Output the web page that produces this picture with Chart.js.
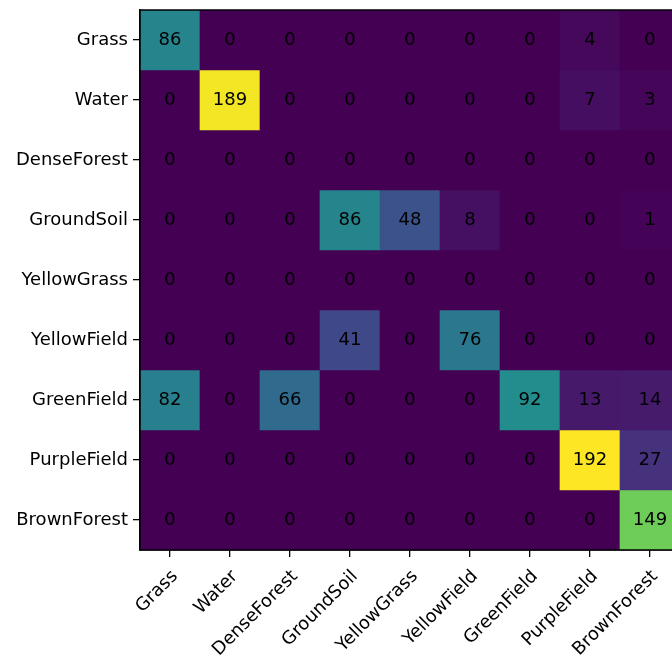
<!DOCTYPE html>
<html>
<head>
<meta charset="utf-8">
<script src="https://cdn.jsdelivr.net/npm/chart.js@4/dist/chart.umd.min.js"></script>
<style>
  html, body { margin: 0; padding: 0; background: #fff; overflow: hidden; }
  #wrap { position: absolute; left: 0; top: 0; width: 680px; height: 656px; }
</style>
</head>
<body>
<div id="wrap"><canvas id="cm" width="680" height="656"></canvas></div>
<script>
// Class names (true class on rows, predicted class on columns)
const classes = ['Grass', 'Water', 'DenseForest', 'GroundSoil', 'YellowGrass',
                 'YellowField', 'GreenField', 'PurpleField', 'BrownForest'];

// Confusion counts, one row per true class
const grass       = [86, 0, 0, 0, 0, 0, 0, 4, 0];
const water       = [0, 189, 0, 0, 0, 0, 0, 7, 3];
const denseForest = [0, 0, 0, 0, 0, 0, 0, 0, 0];
const groundSoil  = [0, 0, 0, 86, 48, 8, 0, 0, 1];
const yellowGrass = [0, 0, 0, 0, 0, 0, 0, 0, 0];
const yellowField = [0, 0, 0, 41, 0, 76, 0, 0, 0];
const greenField  = [82, 0, 66, 0, 0, 0, 92, 13, 14];
const purpleField = [0, 0, 0, 0, 0, 0, 0, 192, 27];
const brownForest = [0, 0, 0, 0, 0, 0, 0, 0, 149];

const rows = [grass, water, denseForest, groundSoil, yellowGrass,
              yellowField, greenField, purpleField, brownForest];

// Viridis colormap stops
const viridis = ['#440154', '#482475', '#414487', '#355f8d', '#2a788e', '#21918c',
                 '#22a884', '#44bf70', '#7ad151', '#bddf26', '#fde725'];
function hexToRgb(h) {
  return [parseInt(h.slice(1, 3), 16), parseInt(h.slice(3, 5), 16), parseInt(h.slice(5, 7), 16)];
}
const viridisRgb = viridis.map(hexToRgb);
function viridisColor(t) {
  t = Math.max(0, Math.min(1, t));
  const p = t * (viridisRgb.length - 1);
  const i = Math.min(Math.floor(p), viridisRgb.length - 2);
  const f = p - i;
  const a = viridisRgb[i], b = viridisRgb[i + 1];
  const c = a.map((v, k) => Math.round(v + (b[k] - v) * f));
  return `rgb(${c[0]},${c[1]},${c[2]})`;
}

const vmax = Math.max(...rows.flat());

// One floating-bar dataset per row: each bar spans its row band
const datasets = rows.map((vals, i) => ({
  label: classes[i],
  data: vals.map(() => [i - 0.5, i + 0.5]),
  backgroundColor: vals.map(v => viridisColor(v / vmax)),
  borderWidth: 0,
  borderSkipped: false,
  grouped: false,
  categoryPercentage: 1.0,
  barPercentage: 1.0
}));

const FONT = 'DejaVu Sans';

// Count written in the middle of every cell
const cellLabels = {
  id: 'cellLabels',
  afterDatasetsDraw(chart) {
    const { ctx, scales: { x, y } } = chart;
    ctx.save();
    ctx.fillStyle = '#000';
    ctx.font = `18px "${FONT}"`;
    ctx.textAlign = 'center';
    ctx.textBaseline = 'alphabetic';
    rows.forEach((vals, i) => {
      vals.forEach((v, j) => {
        ctx.fillText(String(v), x.getPixelForValue(j), y.getPixelForValue(i) + 4.5);
      });
    });
    ctx.restore();
  }
};

// Black frame around the plotting area
const frame = {
  id: 'frame',
  afterDraw(chart) {
    const { ctx, chartArea: a } = chart;
    ctx.save();
    ctx.strokeStyle = '#000';
    ctx.lineWidth = 1.5;
    ctx.strokeRect(a.left, a.top, a.right - a.left, a.bottom - a.top);
    ctx.restore();
  }
};

new Chart(document.getElementById('cm'), {
  type: 'bar',
  data: { labels: classes, datasets },
  options: {
    responsive: false,
    animation: false,
    devicePixelRatio: 1,
    layout: { padding: { top: 10, right: 0, left: 0, bottom: 0 } },
    plugins: { legend: { display: false }, tooltip: { enabled: false } },
    scales: {
      x: {
        type: 'category',
        offset: true,
        grid: { offset: false, drawOnChartArea: false, drawTicks: true, tickLength: 7,
                color: '#000', lineWidth: 1.3 },
        border: { display: true, color: '#000', width: 1.5 },
        ticks: { color: '#000', font: { family: FONT, size: 18 }, minRotation: 45,
                 maxRotation: 45, autoSkip: false, padding: 9, labelOffset: 5 },
        afterFit(s) { s.height = 106; s.paddingLeft = 0; s.paddingRight = 0; }
      },
      y: {
        type: 'linear',
        reverse: true,
        min: -0.5,
        max: 8.5,
        afterBuildTicks(s) { s.ticks = classes.map((_, i) => ({ value: i })); },
        grid: { drawOnChartArea: false, drawTicks: true, tickLength: 7,
                color: '#000', lineWidth: 1.3 },
        border: { display: true, color: '#000', width: 1.5 },
        ticks: { color: '#000', font: { family: FONT, size: 18 }, padding: 5,
                 callback: (v) => classes[v] ?? '' },
        afterFit(s) { s.width = 140; s.paddingTop = 0; s.paddingBottom = 0; }
      }
    }
  },
  plugins: [cellLabels, frame]
});
</script>
</body>
</html>
